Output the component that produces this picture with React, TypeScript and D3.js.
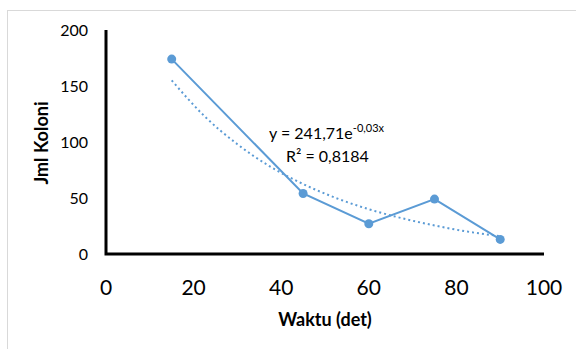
import React, { useEffect, useRef } from 'react';
import * as d3 from 'd3';

// measured points
const waktu = [15, 45, 60, 75, 90];
const koloni = [174, 54, 27, 49, 13];

// exponential trendline
const trendX = [15, 22.5, 30, 37.5, 45, 52.5, 60, 67.5, 75, 82.5, 90];
const trendY = [155, 123, 98, 78, 62.5, 50, 40, 32, 25.5, 20, 16];

const xTicks = [0, 20, 40, 60, 80, 100];
const yTicks = [0, 50, 100, 150, 200];

const W = 576, H = 349;
const FONT = 'Lato, "Open Sans", sans-serif';
const BLUE = '#5b9bd5';

export default function App() {
    const ref = useRef<SVGSVGElement>(null);

    useEffect(() => {
        const svg = d3.select(ref.current);
        svg.selectAll('*').remove();

        // chart area frame
        svg.append('rect')
            .attr('x', 7.5).attr('y', 10.5)
            .attr('width', W).attr('height', H)
            .attr('fill', '#fff')
            .attr('stroke', '#d9d9d9');

        var x = d3.scaleLinear().domain([0, 100]).range([106, 544]);
        var y = d3.scaleLinear().domain([0, 200]).range([254, 30]);

        // y tick labels
        svg.append('g').selectAll('text').data(yTicks).enter()
            .append('text')
            .attr('x', 88)
            .attr('y', d => y(d))
            .attr('dy', '0.35em')
            .attr('text-anchor', 'end')
            .style('font-family', FONT)
            .style('font-size', '16px')
            .attr('fill', '#000')
            .text(d => d);

        // x tick labels
        svg.append('g').selectAll('text').data(xTicks).enter()
            .append('text')
            .attr('x', d => x(d))
            .attr('y', 288)
            .attr('dy', '0.35em')
            .attr('text-anchor', 'middle')
            .style('font-family', FONT)
            .style('font-size', '21px')
            .attr('fill', '#000')
            .text(d => d);

        // axis lines
        svg.append('path')
            .attr('d', `M${x(0)},${y(200)}V${y(0)}H${x(100)}`)
            .attr('fill', 'none')
            .attr('stroke', '#000')
            .attr('stroke-width', 3);

        // trendline (dotted)
        var trend = d3.line<number>()
            .x((d, i) => x(trendX[i]))
            .y(d => y(d))
            .curve(d3.curveMonotoneX);
        svg.append('path')
            .attr('d', trend(trendY))
            .attr('fill', 'none')
            .attr('stroke', BLUE)
            .attr('stroke-width', 2)
            .attr('stroke-dasharray', '2 3');

        // data line
        var line = d3.line<number>()
            .x((d, i) => x(waktu[i]))
            .y(d => y(d));
        svg.append('path')
            .attr('d', line(koloni))
            .attr('fill', 'none')
            .attr('stroke', BLUE)
            .attr('stroke-width', 2);

        svg.append('g').selectAll('circle').data(koloni).enter()
            .append('circle')
            .attr('cx', (d, i) => x(waktu[i]))
            .attr('cy', d => y(d))
            .attr('r', 4.5)
            .attr('fill', BLUE);

        // equation label
        var eq = svg.append('text')
            .attr('x', 269).attr('y', 139)
            .style('font-family', FONT)
            .style('font-size', '16px')
            .attr('fill', '#000');
        eq.append('tspan').text('y = 241,71e');
        eq.append('tspan').attr('dy', -7).style('font-size', '11px').text('-0,03x');

        svg.append('text')
            .attr('x', 286).attr('y', 162)
            .style('font-family', FONT)
            .style('font-size', '16px')
            .attr('fill', '#000')
            .text('R² = 0,8184');

        // axis titles
        svg.append('text')
            .attr('x', 325).attr('y', 320)
            .attr('dy', '0.35em')
            .attr('text-anchor', 'middle')
            .style('font-family', FONT)
            .style('font-size', '18px')
            .style('font-weight', 'bold')
            .text('Waktu (det)');

        svg.append('text')
            .attr('transform', 'translate(42,143) rotate(-90)')
            .attr('dy', '0.35em')
            .attr('text-anchor', 'middle')
            .style('font-family', FONT)
            .style('font-size', '18px')
            .style('font-weight', 'bold')
            .text('Jml Koloni');
    }, []);

    return (
        <svg ref={ref} width={W} height={H}
            style={{ position: 'absolute', left: 0, top: 0, background: '#fff' }} />
    );
}
